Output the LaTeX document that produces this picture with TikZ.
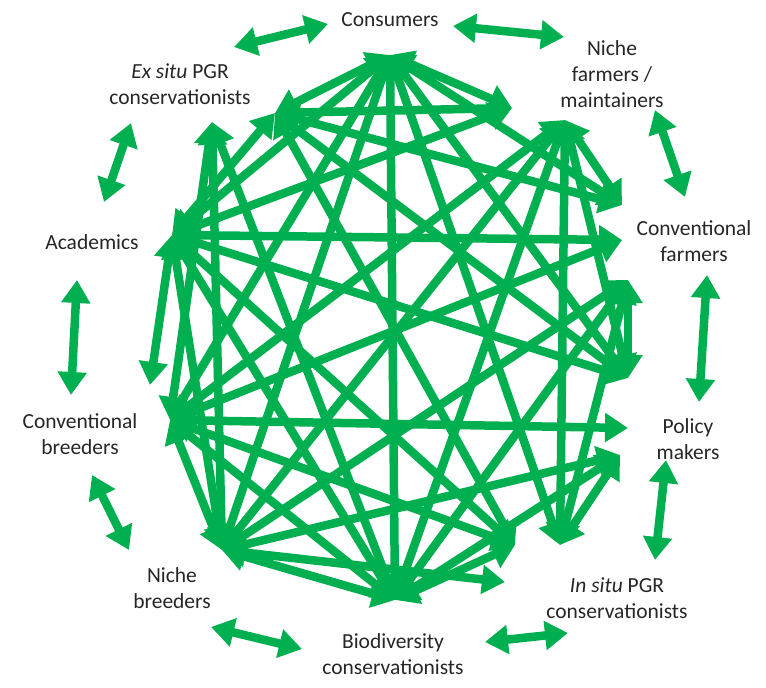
\documentclass[tikz,border=0pt]{standalone}
\usepackage{fontspec}
\setmainfont{Carlito}
\usetikzlibrary{arrows.meta}
\definecolor{grn}{RGB}{0,176,80}
\tikzset{
  lbl/.style={align=center, inner sep=0pt, font=\fontsize{21.5}{26}\selectfont, text=black!85},
  biarrow/.style={draw=grn, line width=8.5pt,
     arrows={Triangle[length=23pt,width=28pt]-Triangle[length=23pt,width=28pt]}},
}
\begin{document}
\begin{tikzpicture}[x=1pt,y=-1pt]
\useasboundingbox (0,0) rectangle (766,688);
% labels
\node[lbl] (Lc)  at (390,20)  {Consumers};
\node[lbl] (Les) at (180,84)  {\textit{Ex situ} PGR\\conservationists};
\node[lbl] (Lnf) at (612,74)  {Niche\\farmers /\\maintainers};
\node[lbl] (La)  at (92,242)  {Academics};
\node[lbl] (Lcf) at (694,241) {Conventional\\farmers};
\node[lbl] (Lcb) at (80,434)  {Conventional\\breeders};
\node[lbl] (Lpm) at (688,439) {Policy\\makers};
\node[lbl] (Lnb) at (172,588) {Niche\\breeders};
\node[lbl] (Lis) at (617,598) {\textit{In situ} PGR\\conservationists};
\node[lbl] (Lb)  at (393,654) {Biodiversity\\conservationists};
% hubs
\coordinate (C)   at (390,55);
\coordinate (ESa) at (212,122);
\coordinate (ESb) at (275,113);
\coordinate (NFa) at (512,108);
\coordinate (NFb) at (565,120);
\coordinate (CFa) at (622,205);
\coordinate (CFb) at (622,240);
\coordinate (CFc) at (628,280);
\coordinate (PMa) at (628,378);
\coordinate (PMb) at (628,428);
\coordinate (PMc) at (620,455);
\coordinate (ISa) at (515,545);
\coordinate (ISb) at (560,545);
\coordinate (ISc) at (505,582);
\coordinate (B)   at (395,600);
\coordinate (NB)  at (222,550);
\coordinate (CBa) at (150,385);
\coordinate (CB)  at (170,420);
\coordinate (A)   at (172,235);
% inner network
\foreach \p/\q in {C/ESb, C/NFa, C/CFa, C/PMa, C/ISb, C/B, C/NB, C/CB, C/A,
  ESb/NFa, ESb/CFa, ESb/PMa, ESb/ISa, ESa/B, ESa/NB, ESa/CB, ESb/A,
  NFb/CFa, NFb/PMa, NFb/ISb, NFb/B, NFb/NB, NFb/CB, NFa/A,
  CFc/PMa, CFc/ISb, CFc/B, CFc/NB, CFb/CB, CFb/A,
  PMc/ISb, PMc/B, PMc/NB, PMb/CB, PMa/A,
  ISa/B, ISc/NB, ISa/CB, ISa/A,
  B/NB, B/CB, B/A,
  NB/CB, NB/A,
  CBa/A}
  \draw[biarrow] (\p) -- (\q);
% outer arrows
\coordinate (o1a) at (234,47);  \coordinate (o1b) at (328,24);
\coordinate (o2a) at (453,26);  \coordinate (o2b) at (564,37);
\coordinate (o3a) at (655,110); \coordinate (o3b) at (685,197);
\coordinate (o4a) at (707,275); \coordinate (o4b) at (699,402);
\coordinate (o5a) at (666,460); \coordinate (o5b) at (655,560);
\coordinate (o6a) at (485,642); \coordinate (o6b) at (568,633);
\coordinate (o7a) at (211,627); \coordinate (o7b) at (302,649);
\coordinate (o8a) at (92,475);  \coordinate (o8b) at (129,550);
\coordinate (o9a) at (77,280);  \coordinate (o9b) at (71,395);
\coordinate (o10a) at (104,202); \coordinate (o10b) at (131,123);
\foreach \i in {1,...,10}
  \draw[biarrow] (o\i a) -- (o\i b);
\end{tikzpicture}
\end{document}
